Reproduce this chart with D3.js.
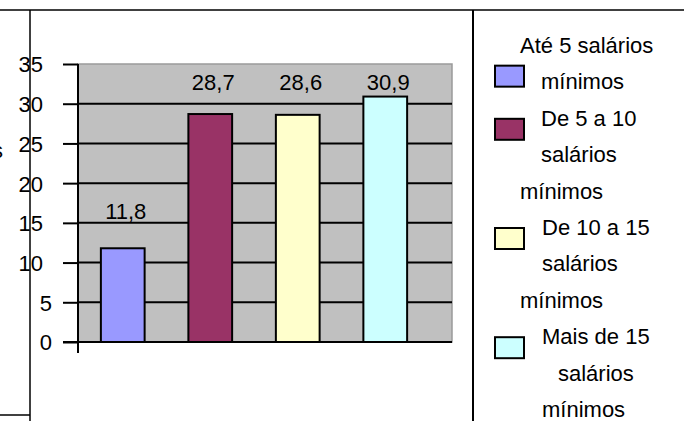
<!DOCTYPE html>
<html>
<head>
<meta charset="utf-8">
<script src="https://cdn.jsdelivr.net/npm/d3@7/dist/d3.min.js"></script>
<style>
  html, body { margin: 0; padding: 0; background: #ffffff; }
  svg { display: block; }
  text { font-family: "Liberation Sans", Arial, sans-serif; fill: #000; }
</style>
</head>
<body>
<svg id="chart" width="684" height="421"></svg>
<script>
// Income brackets (in minimum wages) and their shares, in percent
const categories = [
  "Até 5 salários mínimos",
  "De 5 a 10 salários mínimos",
  "De 10 a 15 salários mínimos",
  "Mais de 15 salários mínimos"
];
const values = [11.8, 28.7, 28.6, 30.9];
const valueLabels = ["11,8", "28,7", "28,6", "30,9"];
const colors = ["#9999FF", "#993366", "#FFFFCC", "#CCFFFF"];
const yTicks = [0, 5, 10, 15, 20, 25, 30, 35];
// Legend text, already wrapped into lines
const legendLines = [
  ["Até 5 salários", "mínimos"],
  ["De 5 a 10", "salários", "mínimos"],
  ["De 10 a 15", "salários", "mínimos"],
  ["Mais de 15", "salários", "mínimos"]
];

const svg = d3.select("#chart");
const FONT = 22;

// Frame lines of the chart object
const frame = svg.append("g").attr("stroke", "#000").attr("stroke-width", 1.5);
frame.append("line").attr("x1", 0).attr("x2", 684).attr("y1", 10).attr("y2", 10);
frame.append("line").attr("x1", 30).attr("x2", 30).attr("y1", 10).attr("y2", 421);
frame.append("line").attr("x1", 0).attr("x2", 30).attr("y1", 415).attr("y2", 415);
frame.append("line").attr("x1", 473).attr("x2", 473).attr("y1", 10).attr("y2", 421)
  .attr("stroke-width", 2);

// Plot area
const plot = { left: 78, right: 452, top: 64, bottom: 342 };
const y = d3.scaleLinear().domain([0, 35]).range([plot.bottom, plot.top]);
const x = d3.scaleBand().domain(categories).range([79, 429])
  .paddingInner(0.5).paddingOuter(0.25);

svg.append("rect")
  .attr("x", plot.left).attr("y", plot.top)
  .attr("width", plot.right - plot.left).attr("height", plot.bottom - plot.top)
  .attr("fill", "#C0C0C0").attr("stroke", "#9a9a9a").attr("stroke-width", 1.5);

// Horizontal gridlines
svg.append("g").selectAll("line")
  .data(yTicks.filter(t => t > 0 && t < 35))
  .join("line")
  .attr("x1", plot.left).attr("x2", plot.right)
  .attr("y1", d => y(d)).attr("y2", d => y(d))
  .attr("stroke", "#000").attr("stroke-width", 2);

// Bars
svg.append("g").selectAll("rect")
  .data(categories)
  .join("rect")
  .attr("x", d => x(d))
  .attr("width", x.bandwidth())
  .attr("y", (d, i) => y(values[i]))
  .attr("height", (d, i) => y(0) - y(values[i]))
  .attr("fill", (d, i) => colors[i])
  .attr("stroke", "#000").attr("stroke-width", 2);

// Value labels above the bars, kept below the top of the plot
svg.append("g").selectAll("text")
  .data(categories)
  .join("text")
  .attr("x", d => x(d) + x.bandwidth() / 2 + 3)
  .attr("y", (d, i) => Math.max(y(values[i]) - 29, 90))
  .attr("text-anchor", "middle")
  .attr("font-size", FONT)
  .text((d, i) => valueLabels[i]);

// Y axis
const yAxis = d3.axisLeft(y).tickValues(yTicks).tickSize(15).tickPadding(0)
  .tickFormat(d3.format("d"));
const axisG = svg.append("g")
  .attr("transform", `translate(${plot.left},0)`)
  .call(yAxis);
axisG.select(".domain").remove();
axisG.selectAll(".tick line").attr("stroke", "#000").attr("stroke-width", 2);
axisG.selectAll(".tick text")
  .attr("font-size", FONT)
  .attr("font-family", "Liberation Sans, Arial, sans-serif")
  .attr("fill", "#000")
  .attr("x", d => (d < 10 ? 52 : 43) - plot.left)
  .attr("dy", "0.36em");
svg.append("line")
  .attr("x1", plot.left).attr("x2", plot.left)
  .attr("y1", plot.top).attr("y2", plot.bottom + 11)
  .attr("stroke", "#000").attr("stroke-width", 2);
svg.append("line")
  .attr("x1", plot.left - 15).attr("x2", plot.right)
  .attr("y1", plot.bottom).attr("y2", plot.bottom)
  .attr("stroke", "#000").attr("stroke-width", 2);

// Tail of the axis title at the left edge
svg.append("text").attr("x", 3).attr("y", 158)
  .attr("text-anchor", "end").attr("font-size", FONT).text("s");

// Legend
const lineY0 = 53, lineStep = 36.4;
const lineIndent = [[520, 541], [541, 541, 520], [542, 542, 520], [542, 558, 542]];
const swatchLine = [0.54, 2, 5, 8];
const legend = svg.append("g");
let lineIdx = 0;
legendLines.forEach((lines, k) => {
  lines.forEach((t, j) => {
    legend.append("text")
      .attr("x", lineIndent[k][j])
      .attr("y", lineY0 + (lineIdx + j) * lineStep)
      .attr("font-size", FONT)
      .text(t);
  });
  const cy = lineY0 + swatchLine[k] * lineStep + 3.5;
  legend.append("rect")
    .attr("x", 495).attr("y", cy - 10.5)
    .attr("width", 29).attr("height", 21)
    .attr("fill", colors[k])
    .attr("stroke", "#000").attr("stroke-width", 2);
  lineIdx += lines.length;
});
</script>
</body>
</html>
